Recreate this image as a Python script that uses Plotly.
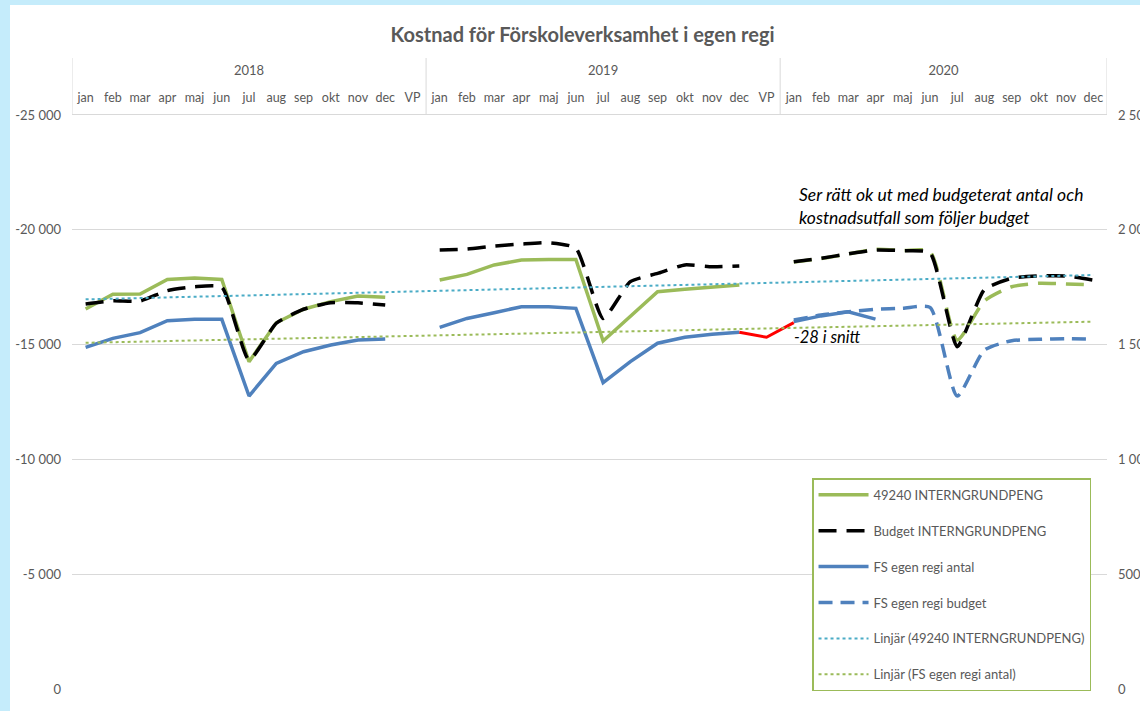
import plotly.graph_objects as go

# ---------------- data ----------------
months13 = ["jan", "feb", "mar", "apr", "maj", "jun", "jul", "aug", "sep", "okt", "nov", "dec", "VP"]
months12 = months13[:12]
year_labels = ["2018", "2019", "2020"]
years = ["2018"] * 13 + ["2019"] * 13 + ["2020"] * 12
months = months13 + months13 + months12

N = None
# 49240 INTERNGRUNDPENG (left axis, negative)
grund_2018 = [-16550, -17190, -17200, -17840, -17900, -17840, -14255, -15950, -16540, -16870, -17120, -17060]
grund_2019 = [-17810, -18060, -18470, -18680, -18710, -18710, -15160, -16230, -17300, -17410, -17500, -17600]
grund_2020 = [-18600, -18750, -18950, -19150, -19100, -19050, -15200, -16900, -17520, -17670, -17640, -17600]

# Budget INTERNGRUNDPENG
budget_2018 = [-16770, -16910, -16900, -17350, -17520, -17500, -14330, -15930, -16540, -16820, -16820, -16720]
budget_2019 = [-19120, -19160, -19290, -19380, -19440, -19200, -16140, -17740, -18100, -18470, -18390, -18420]
budget_2020 = [-18610, -18760, -18950, -19120, -19090, -19000, -14910, -17400, -17890, -17990, -17990, -17810]

# FS egen regi antal (right axis)
antal_2018 = [1488, 1527, 1552, 1604, 1610, 1610, 1276, 1418, 1469, 1498, 1520, 1524]
antal_2019 = [1575, 1614, 1639, 1665, 1665, 1658, 1334, 1426, 1506, 1532, 1545, 1554]
antal_2020 = [1600, 1625, 1643, 1611, N, N, N, N, N, N, N, N]

# FS egen regi budget (right axis, 2020)
fsbudget_2020 = [1607, 1629, 1643, 1654, 1658, 1662, 1276, 1476, 1517, 1523, 1526, 1523]

# red connector (dec 2019 -> VP -> jan 2020)
red_cats = [("2019", "dec"), ("2019", "VP"), ("2020", "jan")]
red_vals = [1554, 1532, 1596]

# linear trend lines (start jan 2018, end dec 2020)
trend_cats = [("2018", "jan"), ("2020", "dec")]
trend_grund = [-16970, -18030]
trend_antal = [1508, 1600]

left_ticks = [0, -5000, -10000, -15000, -20000, -25000]
left_labels = ["0", "-5 000", "-10 000", "-15 000", "-20 000", "-25 000"]
right_ticks = [0, 500, 1000, 1500, 2000, 2500]
right_labels = ["0", "500", "1 000", "1 500", "2 000", "2 500"]

# ---------------- category positions ----------------
cats = list(zip(years, months))
pos = list(range(len(cats)))


def idx(c):
    return cats.index(c)


group_start = [years.index(y) for y in year_labels]
group_end = [len(years) - 1 - years[::-1].index(y) for y in year_labels]
group_mid = [(a + b) / 2 for a, b in zip(group_start, group_end)]
dividers = [group_start[0] - 0.5] + [e + 0.5 for e in group_end]

none12 = [N] * 12
grund_all = grund_2018 + [N] + grund_2019 + [N] + none12
grund_fc = [N] * 26 + grund_2020
budget_all = budget_2018 + [N] + budget_2019 + [N] + budget_2020
antal_all = antal_2018 + [N] + antal_2019 + [N] + antal_2020
fsbudget_all = [N] * 26 + fsbudget_2020

GREEN = "#9BBB59"
BLUE = "#4F81BD"
TXT = "#595959"
GRID = "#D9D9D9"
FONT = "Lato"

fig = go.Figure()

fig.add_trace(go.Scatter(x=pos, y=grund_all, mode="lines", name="49240 INTERNGRUNDPENG",
                         line=dict(color=GREEN, width=3.5), legendgroup="g1"))
fig.add_trace(go.Scatter(x=pos, y=grund_fc, mode="lines", name="49240 INTERNGRUNDPENG",
                         line=dict(color=GREEN, width=3.5, dash="18px,10px", shape="spline", smoothing=0.6),
                         showlegend=False, legendgroup="g1"))
fig.add_trace(go.Scatter(x=pos, y=budget_all, mode="lines", name="Budget INTERNGRUNDPENG",
                         line=dict(color="black", width=3.5, dash="18px,10px", shape="spline", smoothing=0.5),
                         legendgroup="g2"))
fig.add_trace(go.Scatter(x=pos, y=antal_all, mode="lines", name="FS egen regi antal", yaxis="y2",
                         line=dict(color=BLUE, width=3.5), legendgroup="g3"))
fig.add_trace(go.Scatter(x=pos, y=fsbudget_all, mode="lines", name="FS egen regi budget", yaxis="y2",
                         line=dict(color=BLUE, width=3.5, dash="14px,8px", shape="spline", smoothing=0.6),
                         legendgroup="g4"))
fig.add_trace(go.Scatter(x=[idx(c) for c in red_cats], y=red_vals, mode="lines", yaxis="y2",
                         line=dict(color="#FF0000", width=3), showlegend=False, hoverinfo="skip"))
fig.add_trace(go.Scatter(x=[idx(c) for c in trend_cats], y=trend_grund, mode="lines",
                         name="Linjär (49240 INTERNGRUNDPENG)",
                         line=dict(color="#4BACC6", width=2, dash="dot"), legendgroup="g5"))
fig.add_trace(go.Scatter(x=[idx(c) for c in trend_cats], y=trend_antal, mode="lines", yaxis="y2",
                         name="Linjär (FS egen regi antal)",
                         line=dict(color=GREEN, width=2, dash="dot"), legendgroup="g6"))

xrange = [-0.5, len(cats) - 0.5]
fig.update_layout(
    width=1140, height=711,
    margin=dict(l=72, r=33, t=115, b=22, autoexpand=False),
    paper_bgcolor="white", plot_bgcolor="white",
    font=dict(family=FONT, size=13, color=TXT),
    title=dict(text="<b>Kostnad för Förskoleverksamhet i egen regi</b>",
               x=0.511, xanchor="center", y=0.951, yanchor="middle",
               font=dict(size=20, color=TXT, family=FONT)),
    xaxis=dict(side="top", range=xrange, tickvals=pos, ticktext=months,
               showgrid=False, showline=True, zeroline=False, automargin=False,
               linecolor=GRID, linewidth=1, tickfont=dict(size=12.5, color=TXT),
               ticks="", tickangle=0, ticklabelstandoff=7),
    xaxis2=dict(side="top", overlaying="x", anchor="y", range=xrange, tickvals=group_mid, ticktext=year_labels,
                showgrid=False, showline=False, zeroline=False, automargin=False,
                tickfont=dict(size=13, color=TXT), ticks="", tickangle=0, ticklabelstandoff=36),
    yaxis=dict(range=[0, -25000], tickvals=left_ticks, ticktext=left_labels, showgrid=True,
               gridcolor=GRID, gridwidth=1, zeroline=False, showline=False, automargin=False,
               tickfont=dict(size=13, color=TXT), ticks="", ticklabelstandoff=10),
    yaxis2=dict(range=[0, 2500], tickvals=right_ticks, ticktext=right_labels, overlaying="y", side="right",
                showgrid=False, zeroline=False, showline=False, automargin=False,
                tickfont=dict(size=13, color=TXT), ticklabelstandoff=10),
    legend=dict(x=0.715, y=0.367, xanchor="left", yanchor="top", bgcolor="white",
                bordercolor=GREEN, borderwidth=1.5, tracegroupgap=16, itemwidth=50,
                font=dict(size=13, color=TXT, family=FONT)),
    showlegend=True,
)

# invisible trace so the year axis is drawn
fig.add_trace(go.Scatter(x=[group_mid[0]], y=[None], xaxis="x2", showlegend=False, hoverinfo="skip"))

fig.add_annotation(xref="paper", yref="paper", x=0.7005, y=0.884,
                   xanchor="left", yanchor="top",
                   text="<i>Ser rätt ok ut med budgeterat antal och<br>kostnadsutfall som följer budget</i>",
                   showarrow=False, align="left", font=dict(size=17.5, color="black", family=FONT))
fig.add_annotation(xref="paper", yref="paper", x=0.6952, y=0.6135, xanchor="left", yanchor="middle",
                   text="<i>-28 i snitt</i>", showarrow=False, font=dict(size=16.5, color="black", family=FONT))

# group dividers of the category axis
for xd in dividers:
    fig.add_shape(type="line", xref="x", yref="paper", x0=xd, x1=xd, y0=1, y1=(689 - 58) / 574,
                  line=dict(color=GRID, width=1))

# light blue frame strips (left and top)
fig.add_shape(type="rect", xref="paper", yref="paper", x0=-72 / 1035, x1=-62 / 1035, y0=-22 / 574, y1=689 / 574,
              fillcolor="#C5ECFB", line=dict(width=0), layer="above")
fig.add_shape(type="rect", xref="paper", yref="paper", x0=-72 / 1035, x1=1068 / 1035, y0=(689 - 5) / 574, y1=689 / 574,
              fillcolor="#C5ECFB", line=dict(width=0), layer="above")

fig.write_html("out.html", config={"displayModeBar": False},
               post_script="document.body.style.margin='0px';")
